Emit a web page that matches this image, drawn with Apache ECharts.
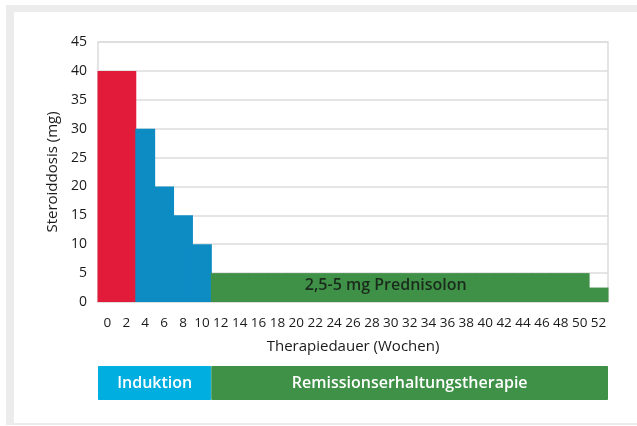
<!DOCTYPE html>
<html>
<head>
<meta charset="utf-8">
<script src="https://cdn.jsdelivr.net/npm/echarts@6/dist/echarts.min.js"></script>
<style>
html,body{margin:0;padding:0;background:#fff;}
#c{width:637px;height:426px;}
</style>
</head>
<body>
<div id="c"></div>
<script>
// Weeks (category labels)
const weeks = ['0','2','4','6','8','10','12','14','16','18','20','22','24','26','28','30','32','34','36','38','40','42','44','46','48','50','52'];
// Steroid dose (mg) per 2-week category
const dose = [40,40,30,20,15,10,5,5,5,5,5,5,5,5,5,5,5,5,5,5,5,5,5,5,5,5,2.5];
// Phase per category: 0 = initial (red), 1 = taper (blue), 2 = maintenance (green)
const phaseOfBar = [0,0,1,1,1,1,2,2,2,2,2,2,2,2,2,2,2,2,2,2,2,2,2,2,2,2,2];
const barColors = ['#e21b3a','#0c8cc3','#3f9147'];
// Bottom phase strip: names and length in categories
const phaseNames = ['Induktion','Remissionserhaltungstherapie'];
const phaseLengths = [6,21];
const phaseColors = ['#00afe0','#3f9147'];
const yTicks = {min:0,max:45,interval:5};
const noteText = '2,5-5 mg Prednisolon';
const noteCoord = ['30', 2.5];

const font = 'Open Sans';
const chart = echarts.init(document.getElementById('c'), null, {renderer:'canvas'});
chart.setOption({
  backgroundColor:'#fff',
  animation:false,
  textStyle:{fontFamily:font},
  graphic:[
    {type:'rect', shape:{x:6,y:5,width:631,height:7}, style:{fill:'#ececec'}, silent:true},
    {type:'rect', shape:{x:6,y:5,width:8,height:420}, style:{fill:'#ececec'}, silent:true},
    {type:'rect', shape:{x:6,y:423,width:631,height:2}, style:{fill:'#ececec'}, silent:true}
  ],
  grid:[
    {left:98,right:29,top:42,bottom:124,show:true,borderColor:'#dcdcdc',borderWidth:1.5,backgroundColor:'transparent'},
    {left:98,right:29,top:366,height:34}
  ],
  xAxis:[
    {type:'category',gridIndex:0,data:weeks,boundaryGap:true,
     axisLine:{show:false},axisTick:{show:false},
     axisLabel:{color:'#1a1a1a',fontSize:13.5,margin:14,interval:0,fontFamily:font},
     name:'Therapiedauer (Wochen)',nameLocation:'middle',nameGap:37,
     nameTextStyle:{color:'#1a1a1a',fontSize:15,fontFamily:font}},
    {type:'value',gridIndex:1,min:0,max:27,show:false}
  ],
  yAxis:[
    {type:'value',gridIndex:0,min:yTicks.min,max:yTicks.max,interval:yTicks.interval,
     axisLine:{show:false},axisTick:{show:false},
     axisLabel:{color:'#1a1a1a',fontSize:14,margin:11,fontFamily:font},
     splitLine:{lineStyle:{color:'#dcdcdc',width:1.5}},
     name:'Steroiddosis (mg)',nameLocation:'middle',nameGap:33,nameRotate:90,
     nameTextStyle:{color:'#1a1a1a',fontSize:15,fontFamily:font}},
    {type:'category',gridIndex:1,data:['Phase'],show:false}
  ],
  series:[
    {type:'custom',xAxisIndex:0,yAxisIndex:0,
     data:dose.map((v,i)=>[i,v,phaseOfBar[i]]),
     encode:{x:0,y:1},
     renderItem:function(params,api){
       const top = api.coord([api.value(0),api.value(1)]);
       const base = api.coord([api.value(0),0]);
       const w = api.size([1,0])[0];
       return {type:'rect',
         shape:{x:top[0]-w/2-0.5,y:top[1],width:w+1,height:base[1]-top[1]},
         style:{fill:barColors[api.value(2)]}};
     }
    },
    {type:'scatter',xAxisIndex:0,yAxisIndex:0,symbolSize:0,z:5,
     data:[{value:noteCoord,
       label:{show:true,position:'inside',formatter:noteText,color:'#111',fontSize:16,fontWeight:600,fontFamily:font,offset:[-5,-2]}}]
    },
    ...phaseNames.map((n,i)=>({
      type:'bar',name:n,xAxisIndex:1,yAxisIndex:1,stack:'phase',barWidth:'100%',
      data:[phaseLengths[i]],
      itemStyle:{color:phaseColors[i],borderColor:phaseColors[i],borderWidth:1},
      label:{show:true,position:'inside',formatter:n,color:'#fff',fontSize:16,fontWeight:600,fontFamily:font}
    }))
  ]
});
</script>
</body>
</html>
